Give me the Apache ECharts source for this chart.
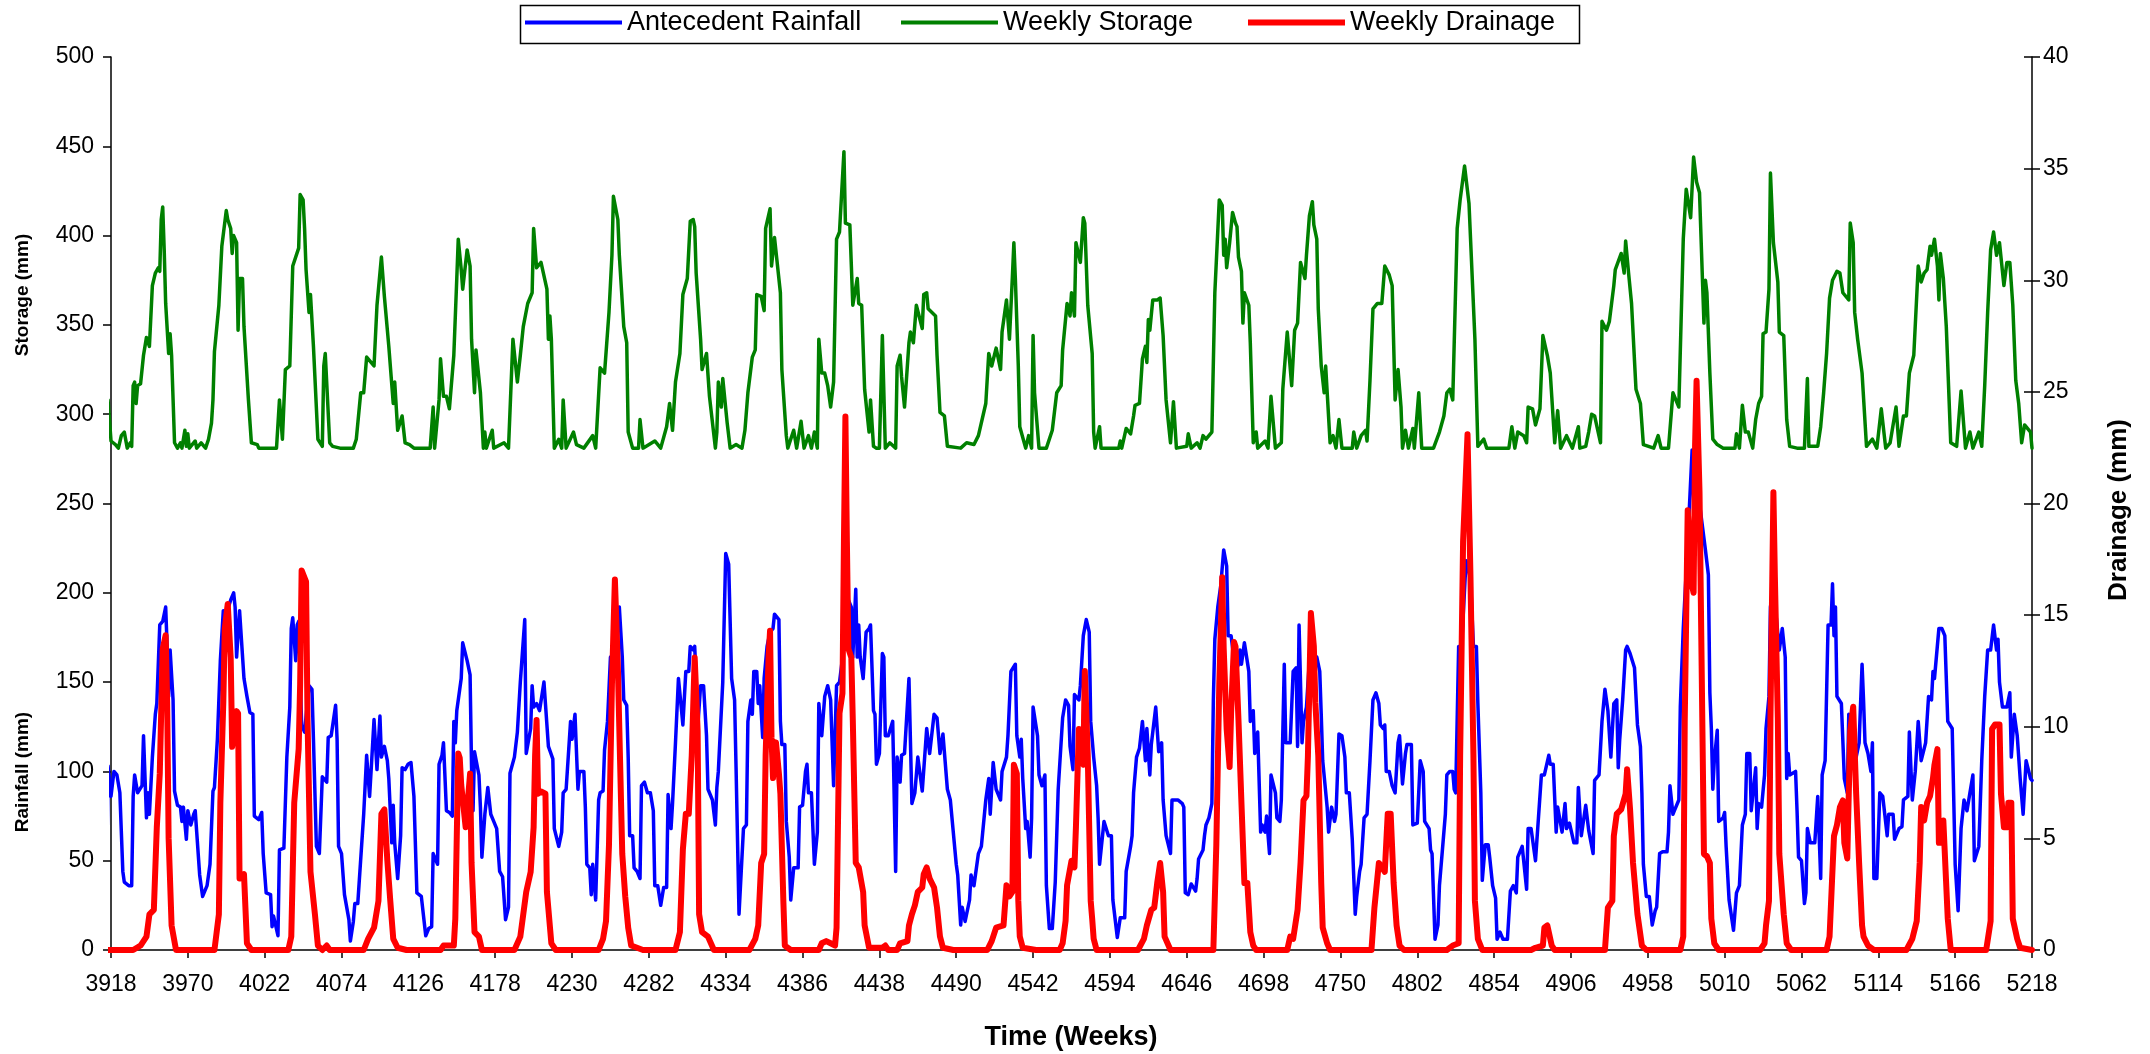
<!DOCTYPE html>
<html><head><meta charset="utf-8">
<script src="https://cdn.jsdelivr.net/npm/echarts/dist/echarts.min.js"></script>
<style>html,body{margin:0;padding:0;background:#fff;overflow:hidden}#c{width:2150px;height:1054px}</style>
</head><body><div id="c"></div>
<script>
const WEEK_START = 3918, WEEK_END = 5218, WEEK_STEP = 52;
const seriesNames = ['Antecedent Rainfall', 'Weekly Storage', 'Weekly Drainage'];
const axisTitles = {x: 'Time (Weeks)', storage: 'Storage (mm)', rain: 'Rainfall (mm)', drain: 'Drainage (mm)'};
const leftAxis = {min: 0, max: 500, step: 50};
const rightAxis = {min: 0, max: 40, step: 5};

// [week, mm]
const rainfall = [[3912,30],[3913,39],[3915,38],[3916,103],[3918,86],[3920,100],[3922,98],[3924,88],[3925,88],[3926,44],[3927,38],[3930,36],[3932,36],[3933,86],[3934,98],[3936,88],[3939,92],[3940,120],[3942,74],[3943,88],[3944,76],[3946,108],[3948,132],[3949,138],[3951,182],[3953,184],[3955,192],[3956,170],[3957,142],[3958,168],[3960,140],[3961,89],[3963,81],[3965,80],[3966,72],[3967,80],[3969,62],[3970,78],[3972,70],[3974,76],[3975,78],[3976,66],[3978,42],[3980,30],[3983,36],[3985,48],[3987,89],[3988,91],[3990,118],[3992,162],[3994,190],[3996,188],[3999,196],[4001,200],[4002,192],[4003,164],[4005,190],[4006,190],[4008,152],[4010,142],[4012,133],[4014,132],[4015,75],[4018,73],[4020,77],[4021,54],[4023,32],[4026,31],[4027,13],[4028,19],[4031,8],[4032,56],[4035,57],[4037,108],[4039,136],[4040,180],[4041,186],[4043,162],[4044,182],[4045,184],[4047,126],[4049,122],[4052,148],[4054,146],[4055,118],[4057,58],[4059,54],[4061,97],[4064,94],[4065,119],[4067,120],[4070,137],[4071,118],[4072,58],[4074,54],[4076,31],[4079,17],[4080,5],[4082,16],[4083,26],[4085,26],[4089,76],[4091,109],[4093,86],[4094,100],[4096,129],[4098,101],[4100,131],[4101,108],[4103,114],[4105,106],[4106,96],[4108,60],[4109,81],[4110,60],[4112,40],[4114,64],[4115,102],[4117,101],[4119,104],[4121,105],[4123,86],[4125,32],[4128,30],[4131,8],[4133,12],[4135,13],[4136,54],[4137,55],[4139,48],[4140,104],[4142,109],[4143,116],[4145,78],[4147,77],[4149,75],[4150,128],[4151,116],[4152,134],[4154,146],[4155,152],[4156,172],[4159,162],[4161,154],[4162,102],[4163,78],[4164,111],[4167,98],[4168,80],[4169,52],[4171,76],[4173,91],[4175,76],[4177,72],[4179,68],[4181,44],[4183,41],[4185,17],[4187,24],[4188,99],[4191,108],[4193,122],[4195,150],[4198,185],[4199,110],[4202,124],[4203,148],[4204,136],[4206,138],[4208,134],[4211,150],[4212,138],[4214,114],[4217,107],[4218,68],[4221,58],[4223,66],[4224,88],[4226,90],[4229,128],[4230,118],[4232,132],[4234,90],[4235,100],[4238,100],[4239,80],[4240,48],[4242,46],[4243,31],[4244,48],[4246,28],[4248,84],[4249,88],[4251,89],[4252,112],[4254,128],[4256,164],[4257,156],[4258,168],[4260,189],[4262,192],[4264,164],[4265,140],[4267,137],[4268,108],[4269,64],[4271,64],[4272,46],[4274,44],[4276,40],[4277,92],[4279,94],[4281,88],[4283,88],[4285,78],[4286,36],[4288,36],[4290,25],[4292,35],[4294,35],[4295,87],[4297,68],[4298,82],[4300,116],[4302,152],[4304,135],[4305,126],[4307,156],[4309,156],[4310,170],[4312,168],[4313,170],[4314,152],[4315,124],[4317,148],[4319,148],[4321,120],[4322,90],[4325,84],[4327,70],[4328,91],[4329,100],[4332,150],[4334,222],[4336,216],[4338,152],[4340,140],[4341,102],[4343,20],[4346,68],[4348,70],[4349,128],[4351,140],[4352,132],[4353,156],[4355,156],[4356,138],[4357,148],[4359,119],[4360,152],[4362,170],[4364,178],[4366,180],[4367,188],[4370,185],[4371,128],[4372,115],[4374,115],[4375,72],[4377,52],[4378,28],[4380,46],[4383,46],[4384,80],[4386,81],[4388,100],[4389,104],[4390,88],[4392,88],[4394,48],[4396,66],[4397,138],[4399,120],[4401,142],[4403,148],[4405,140],[4407,92],[4409,148],[4411,150],[4414,170],[4415,228],[4417,196],[4419,192],[4420,164],[4422,202],[4423,164],[4424,182],[4425,164],[4427,152],[4429,178],[4431,180],[4432,182],[4434,134],[4435,132],[4436,104],[4438,110],[4440,166],[4441,164],[4442,120],[4444,120],[4447,128],[4449,44],[4450,108],[4452,94],[4453,109],[4455,110],[4458,152],[4459,153],[4460,82],[4462,88],[4464,108],[4467,89],[4468,89],[4470,124],[4472,110],[4475,132],[4477,130],[4479,110],[4481,121],[4484,90],[4486,84],[4488,66],[4490,48],[4491,42],[4493,14],[4494,24],[4496,16],[4497,16],[4499,28],[4500,42],[4502,36],[4505,54],[4507,58],[4510,84],[4512,96],[4513,76],[4515,105],[4517,90],[4520,84],[4521,100],[4524,108],[4525,120],[4527,156],[4530,160],[4531,120],[4533,108],[4534,118],[4535,96],[4537,68],[4538,72],[4540,52],[4541,74],[4542,136],[4545,120],[4546,98],[4548,92],[4550,98],[4551,36],[4553,12],[4555,12],[4557,38],[4559,90],[4560,90],[4562,130],[4564,140],[4566,137],[4567,114],[4569,101],[4570,143],[4573,140],[4574,148],[4576,176],[4578,185],[4580,178],[4581,128],[4583,108],[4585,92],[4586,74],[4587,48],[4588,48],[4590,72],[4591,71],[4593,64],[4595,64],[4596,28],[4597,29],[4599,7],[4601,18],[4604,18],[4605,44],[4608,58],[4609,64],[4610,88],[4612,108],[4614,113],[4616,128],[4618,106],[4619,124],[4621,98],[4622,115],[4625,136],[4627,111],[4629,116],[4630,84],[4632,64],[4635,54],[4636,84],[4640,84],[4643,82],[4644,80],[4645,32],[4647,31],[4649,37],[4650,36],[4652,33],[4653,40],[4654,51],[4657,56],[4658,64],[4659,70],[4661,74],[4663,82],[4664,140],[4665,174],[4667,192],[4669,204],[4671,224],[4673,215],[4674,176],[4676,176],[4679,156],[4681,160],[4682,168],[4683,160],[4685,172],[4688,156],[4689,128],[4691,134],[4692,110],[4694,122],[4696,66],[4697,70],[4699,66],[4700,75],[4702,54],[4703,98],[4706,88],[4707,74],[4709,72],[4710,84],[4712,160],[4713,116],[4716,116],[4718,156],[4720,158],[4721,114],[4722,182],[4724,116],[4725,128],[4727,136],[4729,162],[4732,164],[4734,164],[4736,156],[4737,132],[4738,106],[4741,80],[4742,66],[4744,80],[4746,72],[4747,76],[4749,121],[4751,120],[4753,108],[4754,88],[4756,88],[4758,62],[4760,20],[4761,30],[4763,44],[4764,48],[4766,74],[4768,76],[4770,106],[4772,140],[4774,144],[4776,138],[4777,126],[4779,124],[4780,126],[4781,100],[4783,100],[4785,92],[4787,88],[4789,116],[4790,120],[4792,93],[4794,110],[4795,115],[4798,115],[4799,70],[4802,71],[4804,106],[4806,100],[4807,72],[4810,68],[4811,56],[4812,54],[4814,6],[4816,14],[4817,36],[4819,56],[4821,76],[4822,98],[4824,100],[4826,100],[4827,90],[4828,88],[4830,170],[4832,170],[4835,218],[4838,208],[4840,170],[4842,170],[4843,138],[4845,88],[4846,39],[4848,59],[4850,59],[4851,52],[4853,36],[4855,29],[4856,6],[4858,10],[4860,6],[4863,6],[4865,33],[4867,36],[4869,32],[4870,52],[4873,58],[4874,58],[4876,34],[4877,68],[4879,68],[4882,50],[4884,74],[4886,98],[4888,98],[4891,109],[4892,104],[4894,104],[4896,66],[4897,80],[4900,66],[4902,82],[4903,68],[4905,71],[4908,60],[4910,60],[4911,91],[4913,64],[4916,81],[4918,67],[4919,68],[4921,54],[4922,95],[4925,98],[4927,128],[4929,146],[4931,134],[4933,108],[4935,138],[4937,140],[4938,102],[4939,118],[4941,140],[4943,168],[4944,170],[4946,166],[4949,158],[4951,126],[4953,114],[4954,88],[4955,48],[4957,30],[4959,30],[4961,14],[4963,22],[4964,24],[4966,54],[4968,55],[4971,55],[4972,66],[4973,92],[4975,76],[4976,78],[4979,84],[4980,136],[4982,180],[4985,228],[4988,280],[4990,228],[4993,250],[4997,224],[4998,224],[4999,210],[5000,144],[5001,124],[5002,90],[5003,106],[5005,123],[5006,72],[5009,74],[5010,77],[5011,58],[5013,28],[5016,11],[5017,11],[5018,32],[5020,36],[5021,36],[5022,70],[5024,76],[5025,110],[5027,110],[5028,78],[5029,78],[5031,102],[5032,68],[5033,82],[5035,80],[5037,98],[5038,124],[5040,142],[5041,192],[5042,198],[5045,186],[5047,168],[5049,180],[5051,164],[5052,96],[5053,110],[5054,98],[5058,100],[5059,78],[5060,52],[5062,50],[5064,26],[5065,32],[5066,68],[5068,60],[5071,60],[5073,86],[5075,40],[5076,98],[5078,106],[5080,182],[5082,182],[5083,205],[5084,176],[5085,192],[5086,142],[5089,138],[5091,96],[5093,88],[5094,132],[5096,118],[5099,108],[5101,116],[5103,160],[5104,140],[5105,116],[5107,110],[5109,100],[5110,116],[5111,40],[5113,40],[5115,88],[5117,86],[5120,64],[5121,76],[5124,76],[5125,62],[5128,68],[5130,69],[5131,84],[5134,86],[5135,122],[5137,84],[5139,100],[5141,128],[5143,106],[5146,116],[5148,142],[5150,140],[5151,156],[5152,152],[5155,180],[5157,180],[5159,176],[5161,128],[5164,124],[5166,48],[5168,22],[5170,68],[5172,84],[5174,78],[5176,88],[5178,98],[5179,50],[5182,58],[5184,106],[5186,142],[5188,168],[5190,168],[5192,182],[5194,168],[5195,174],[5196,150],[5198,136],[5201,136],[5203,144],[5204,108],[5206,132],[5208,120],[5210,96],[5212,76],[5214,106],[5217,96],[5218,95]];

const storage = [[3912,283],[3914,283],[3916,308],[3918,285],[3921,283],[3923,281],[3925,288],[3927,290],[3929,281],[3931,284],[3932,282],[3933,316],[3934,318],[3935,306],[3936,316],[3938,317],[3940,333],[3942,343],[3944,338],[3946,372],[3948,379],[3950,382],[3951,380],[3952,409],[3953,416],[3954,392],[3955,362],[3957,334],[3958,345],[3959,333],[3961,284],[3963,281],[3965,284],[3966,281],[3968,291],[3969,282],[3970,289],[3971,281],[3975,285],[3976,281],[3979,284],[3982,281],[3984,286],[3986,295],[3987,308],[3988,335],[3991,361],[3993,394],[3996,414],[3997,409],[3999,404],[4000,390],[4001,400],[4003,396],[4004,347],[4005,376],[4007,376],[4008,349],[4011,308],[4013,284],[4017,283],[4018,281],[4030,281],[4032,308],[4034,286],[4036,325],[4039,327],[4041,383],[4045,393],[4046,423],[4048,420],[4049,404],[4050,381],[4052,357],[4053,367],[4055,338],[4058,286],[4061,282],[4062,327],[4063,334],[4066,284],[4068,282],[4073,281],[4082,281],[4084,286],[4087,312],[4089,312],[4091,332],[4096,327],[4098,361],[4101,388],[4103,366],[4106,338],[4109,306],[4110,318],[4112,291],[4115,299],[4117,284],[4120,283],[4123,281],[4127,281],[4134,281],[4136,304],[4137,281],[4140,308],[4141,331],[4143,310],[4145,310],[4147,303],[4150,333],[4152,376],[4153,398],[4155,381],[4156,370],[4159,392],[4161,383],[4162,342],[4164,312],[4165,336],[4168,312],[4170,281],[4171,290],[4172,281],[4176,291],[4177,281],[4184,284],[4187,281],[4190,342],[4193,318],[4195,333],[4197,349],[4200,362],[4203,368],[4204,404],[4206,382],[4209,385],[4213,370],[4214,342],[4215,355],[4216,342],[4218,281],[4221,286],[4223,281],[4224,308],[4226,281],[4231,290],[4233,283],[4238,281],[4244,288],[4246,281],[4249,326],[4252,323],[4255,357],[4257,389],[4258,422],[4261,409],[4262,389],[4265,349],[4267,340],[4268,290],[4271,281],[4275,281],[4276,297],[4278,281],[4286,285],[4290,281],[4294,293],[4296,306],[4298,291],[4300,318],[4303,334],[4305,367],[4308,376],[4310,408],[4312,409],[4313,405],[4314,379],[4317,342],[4318,325],[4321,334],[4323,310],[4327,281],[4328,290],[4329,318],[4331,304],[4332,320],[4335,295],[4337,281],[4341,283],[4345,281],[4347,291],[4349,312],[4352,332],[4354,336],[4355,367],[4358,366],[4360,358],[4361,404],[4364,415],[4365,383],[4367,399],[4371,368],[4372,325],[4375,288],[4376,281],[4380,291],[4382,281],[4385,296],[4387,281],[4390,288],[4392,281],[4394,290],[4396,281],[4397,342],[4399,323],[4401,323],[4403,316],[4405,304],[4407,318],[4409,398],[4411,402],[4414,447],[4415,407],[4418,406],[4420,361],[4423,376],[4424,362],[4426,361],[4428,314],[4431,290],[4432,308],[4434,282],[4436,281],[4438,281],[4440,344],[4442,281],[4445,284],[4449,281],[4450,327],[4452,333],[4453,321],[4455,304],[4458,340],[4459,346],[4461,340],[4463,361],[4467,348],[4468,367],[4470,368],[4471,359],[4476,355],[4477,333],[4479,301],[4482,299],[4484,282],[4493,281],[4497,284],[4502,283],[4505,288],[4510,306],[4512,334],[4514,327],[4517,337],[4520,325],[4521,346],[4524,364],[4526,342],[4528,377],[4529,396],[4530,376],[4532,327],[4533,293],[4537,281],[4539,288],[4541,281],[4542,344],[4543,312],[4546,281],[4551,281],[4555,291],[4558,312],[4561,316],[4562,336],[4565,362],[4567,355],[4568,368],[4570,355],[4571,396],[4574,385],[4576,410],[4577,407],[4579,361],[4582,334],[4583,290],[4584,281],[4587,293],[4588,281],[4600,281],[4601,285],[4602,281],[4605,292],[4608,289],[4610,299],[4611,305],[4614,306],[4616,331],[4618,338],[4619,329],[4620,353],[4621,347],[4623,364],[4626,364],[4628,365],[4630,344],[4632,308],[4635,284],[4637,307],[4639,281],[4646,282],[4647,289],[4649,281],[4653,284],[4655,281],[4657,288],[4659,286],[4663,290],[4665,368],[4668,420],[4670,417],[4671,389],[4672,398],[4673,382],[4675,396],[4677,413],[4679,407],[4680,405],[4681,388],[4683,380],[4684,351],[4685,368],[4688,361],[4689,340],[4691,284],[4693,290],[4694,281],[4699,285],[4701,281],[4703,310],[4706,281],[4710,284],[4711,314],[4714,346],[4717,316],[4719,347],[4721,351],[4723,385],[4726,376],[4727,389],[4729,411],[4731,419],[4732,406],[4734,398],[4735,359],[4737,327],[4739,312],[4740,327],[4743,284],[4745,288],[4747,281],[4749,297],[4751,281],[4758,281],[4759,290],[4761,281],[4764,288],[4767,291],[4768,285],[4770,319],[4771,318],[4772,359],[4775,362],[4778,362],[4780,383],[4783,378],[4785,372],[4787,308],[4789,325],[4791,304],[4792,281],[4794,291],[4796,281],[4799,292],[4800,281],[4803,312],[4805,281],[4813,281],[4817,290],[4820,299],[4822,312],[4824,314],[4826,308],[4829,404],[4831,420],[4834,439],[4837,418],[4841,342],[4843,282],[4847,286],[4849,281],[4864,281],[4866,293],[4868,281],[4870,290],[4874,288],[4876,284],[4877,304],[4880,303],[4882,294],[4885,303],[4887,344],[4890,333],[4892,323],[4894,297],[4895,284],[4897,302],[4899,281],[4903,288],[4907,281],[4911,293],[4912,281],[4916,282],[4918,290],[4920,300],[4922,299],[4926,284],[4927,352],[4930,347],[4932,352],[4935,372],[4936,381],[4940,390],[4942,379],[4943,397],[4945,379],[4947,362],[4950,314],[4953,306],[4955,283],[4962,281],[4965,288],[4967,281],[4972,281],[4975,312],[4979,304],[4982,398],[4984,426],[4987,410],[4989,444],[4991,430],[4993,424],[4995,375],[4996,351],[4997,375],[4998,368],[5000,323],[5002,286],[5005,283],[5009,281],[5017,281],[5018,289],[5020,281],[5022,305],[5024,290],[5026,290],[5029,281],[5031,297],[5033,306],[5035,310],[5036,345],[5038,346],[5040,370],[5041,435],[5043,396],[5046,374],[5047,346],[5050,344],[5052,297],[5054,282],[5059,281],[5064,281],[5066,320],[5067,282],[5073,282],[5075,293],[5077,312],[5079,334],[5081,365],[5083,375],[5086,380],[5088,379],[5090,368],[5094,364],[5095,407],[5097,396],[5098,357],[5100,342],[5103,323],[5106,282],[5110,286],[5113,281],[5116,303],[5119,281],[5122,284],[5126,304],[5128,282],[5131,299],[5133,299],[5135,323],[5138,333],[5141,383],[5143,374],[5145,379],[5147,381],[5149,394],[5150,389],[5152,398],[5154,383],[5155,364],[5156,390],[5158,376],[5160,349],[5163,284],[5167,282],[5170,313],[5173,281],[5176,290],[5178,281],[5182,290],[5184,282],[5186,316],[5188,357],[5190,392],[5192,402],[5194,389],[5196,396],[5199,372],[5201,385],[5203,385],[5205,361],[5207,319],[5209,306],[5211,284],[5213,294],[5217,290],[5218,281]];

const drainage = [[3912,0],[3933,0],[3938,0.2],[3942,0.6],[3944,1.6],[3947,1.8],[3949,5.5],[3951,7.9],[3953,13.5],[3955,14.1],[3956,11.1],[3957,5.0],[3959,1.1],[3962,0],[3988,0],[3991,1.6],[3992,6.6],[3994,11.1],[3995,14.4],[3997,15.5],[3999,13.1],[4000,9.1],[4001,9.1],[4003,10.7],[4004,10.6],[4005,3.2],[4008,3.4],[4010,0.3],[4013,0],[4038,0],[4040,0.6],[4042,6.6],[4045,9.0],[4046,11.9],[4047,17.0],[4050,16.5],[4051,10.3],[4053,3.5],[4056,1.6],[4058,0.2],[4061,0],[4064,0.2],[4066,0],[4089,0],[4092,0.5],[4096,1.0],[4099,2.2],[4101,6.1],[4103,6.3],[4105,4.0],[4107,2.2],[4109,0.5],[4112,0.1],[4118,0],[4141,0],[4143,0.2],[4150,0.2],[4151,1.4],[4153,8.8],[4154,8.6],[4155,7.4],[4158,5.5],[4159,5.5],[4161,7.9],[4162,3.9],[4164,0.8],[4167,0.6],[4169,0],[4191,0],[4195,0.6],[4199,2.6],[4202,3.5],[4204,5.5],[4205,8.7],[4206,10.3],[4207,7.0],[4209,7.1],[4212,7.0],[4213,2.6],[4216,0.3],[4219,0],[4248,0],[4251,0.5],[4253,1.3],[4255,4.7],[4257,11.9],[4259,16.6],[4261,12.7],[4264,4.3],[4266,2.4],[4268,1.0],[4270,0.2],[4274,0.1],[4278,0],[4300,0],[4303,0.8],[4305,4.5],[4307,6.1],[4309,6.1],[4311,8.7],[4313,13.1],[4315,9.8],[4316,1.6],[4318,0.8],[4322,0.6],[4326,0],[4350,0],[4354,0.5],[4356,1.1],[4358,3.9],[4360,4.3],[4361,8.7],[4363,13.1],[4364,14.3],[4365,9.5],[4366,7.7],[4368,9.3],[4370,7.9],[4371,7.0],[4373,2.2],[4374,0.2],[4378,0],[4397,0],[4399,0.3],[4402,0.4],[4405,0.3],[4408,0.2],[4409,1.0],[4411,10.6],[4413,11.5],[4414,18.3],[4415,23.9],[4416,18.3],[4417,13.5],[4419,13.1],[4420,10.3],[4422,3.9],[4424,3.7],[4427,2.6],[4428,1.1],[4431,0.1],[4440,0.1],[4442,0.2],[4444,0],[4450,0],[4452,0.3],[4457,0.4],[4458,1.1],[4460,1.6],[4462,2.0],[4464,2.6],[4467,2.8],[4468,3.4],[4470,3.7],[4472,3.2],[4475,2.8],[4477,1.9],[4479,0.6],[4481,0.1],[4488,0],[4511,0],[4514,0.4],[4517,1.0],[4522,1.1],[4524,2.9],[4526,2.4],[4528,2.6],[4529,8.3],[4531,7.9],[4532,2.2],[4533,0.6],[4535,0.1],[4544,0],[4560,0],[4562,0.3],[4564,1.3],[4565,2.9],[4568,4.0],[4570,3.7],[4571,5.5],[4573,9.9],[4574,8.5],[4576,8.3],[4577,12.5],[4578,10.7],[4579,8.7],[4581,2.2],[4582,1.4],[4583,0.5],[4585,0],[4613,0],[4617,0.5],[4619,1.1],[4622,1.8],[4624,1.9],[4626,3.0],[4628,3.9],[4630,2.6],[4631,0.6],[4635,0],[4664,0],[4666,4.7],[4668,11.9],[4670,16.7],[4671,13.5],[4673,9.9],[4675,8.2],[4676,10.6],[4678,13.8],[4679,13.6],[4681,10.3],[4683,6.6],[4685,3.0],[4687,3.0],[4689,0.8],[4691,0.2],[4693,0],[4714,0],[4716,0.6],[4718,0.5],[4721,1.8],[4723,3.9],[4725,6.7],[4727,6.9],[4728,8.7],[4730,15.1],[4732,13.6],[4733,11.1],[4735,8.7],[4737,3.0],[4738,1.0],[4741,0.3],[4743,0],[4771,0],[4773,1.9],[4776,3.9],[4778,3.7],[4780,3.5],[4782,6.1],[4784,6.1],[4786,3.0],[4788,1.1],[4790,0.2],[4793,0],[4822,0],[4826,0.2],[4830,0.3],[4831,8.7],[4833,18.3],[4836,23.1],[4838,16.7],[4840,8.7],[4841,2.2],[4843,0.5],[4846,0],[4879,0],[4882,0.1],[4887,0.2],[4888,1.0],[4890,1.1],[4891,0.8],[4893,0.2],[4895,0],[4929,0],[4931,1.9],[4934,2.2],[4935,5.1],[4937,6.1],[4940,6.3],[4943,7.0],[4944,8.1],[4946,6.3],[4948,3.9],[4951,1.6],[4954,0.2],[4957,0],[4980,0],[4982,0.6],[4983,10.3],[4985,19.7],[4988,16.3],[4989,16.0],[4990,22.6],[4991,25.5],[4993,20.5],[4996,4.3],[4998,4.2],[5000,3.9],[5001,1.4],[5003,0.3],[5006,0],[5034,0],[5037,0.3],[5038,1.1],[5040,2.2],[5041,10.3],[5043,20.5],[5044,16.7],[5046,10.3],[5047,4.3],[5050,1.6],[5052,0.3],[5055,0],[5079,0],[5081,0.6],[5084,5.1],[5086,5.6],[5088,6.4],[5090,6.7],[5091,4.8],[5093,4.1],[5094,7.0],[5095,9.8],[5097,10.9],[5099,7.0],[5101,3.9],[5103,1.1],[5104,0.6],[5107,0.2],[5111,0],[5133,0],[5137,0.5],[5140,1.3],[5142,3.9],[5143,6.4],[5145,5.8],[5147,6.6],[5149,6.9],[5151,7.7],[5152,8.3],[5154,9.0],[5155,4.8],[5157,4.8],[5158,5.8],[5159,5.8],[5161,1.4],[5163,0],[5187,0],[5190,1.3],[5191,9.9],[5193,10.1],[5196,10.1],[5197,7.0],[5199,5.5],[5201,5.5],[5202,6.6],[5204,6.6],[5205,1.4],[5208,0.5],[5210,0.1],[5218,0]];

const FONT = '"Liberation Sans", Arial, sans-serif';
const toOffset = arr => arr.map(p => [p[0] - WEEK_START, p[1]]);
const chart = echarts.init(document.getElementById('c'), null, {renderer: 'canvas', width: 2150, height: 1054});

const lineSeries = (name, data, color, width, yIdx, z) => ({
  name, type: 'line', data: toOffset(data), xAxisIndex: 0, yAxisIndex: yIdx, symbol: 'none', showSymbol: false,
  clip: false, z, color,
  lineStyle: {color, width, join: 'round', cap: 'round'}
});

const legendItem = (name, left) => ({
  data: [name], left, top: 9, padding: 0, icon: 'rect', itemWidth: 97, itemHeight: name === seriesNames[2] ? 6 : 4,
  textStyle: {fontSize: 27, color: '#000', fontFamily: FONT}
});

const titleText = (text, x, y, rot, size) => ({
  type: 'text', x, y, rotation: rot, z: 100,
  style: {text, font: 'bold ' + size + 'px ' + FONT, fill: '#000', textAlign: 'center', textVerticalAlign: 'middle'}
});

const gridBox = {left: 111, right: 118, top: 57, bottom: 104, containLabel: false, outerBoundsMode: 'none'};
const tickStyle = {color: '#000', width: 1.5};

chart.setOption({
  animation: false,
  backgroundColor: '#fff',
  textStyle: {fontFamily: FONT},
  grid: [Object.assign({}, gridBox), Object.assign({}, gridBox)],
  legend: [legendItem(seriesNames[0], 525), legendItem(seriesNames[1], 901), legendItem(seriesNames[2], 1248)],
  xAxis: [{
    type: 'value', gridIndex: 0, min: 0, max: WEEK_END - WEEK_START, interval: WEEK_STEP,
    axisLine: {show: true, onZero: false, lineStyle: tickStyle},
    axisTick: {show: true, length: 8, lineStyle: tickStyle},
    axisLabel: {formatter: v => String(v + WEEK_START), fontSize: 23, color: '#000', margin: 23, showMinLabel: true, showMaxLabel: true},
    splitLine: {show: false}
  }, {
    type: 'value', gridIndex: 1, min: 0, max: WEEK_END - WEEK_START, show: false
  }],
  yAxis: [
    {type: 'value', gridIndex: 0, position: 'left', min: leftAxis.min, max: leftAxis.max, interval: leftAxis.step,
     axisLine: {show: true, onZero: false, lineStyle: tickStyle},
     axisTick: {show: true, length: 8, lineStyle: tickStyle},
     axisLabel: {fontSize: 23, color: '#000', margin: 17}, splitLine: {show: false}},
    {type: 'value', gridIndex: 0, position: 'right', min: rightAxis.min, max: rightAxis.max, interval: rightAxis.step,
     axisLine: {show: true, onZero: false, lineStyle: tickStyle},
     axisTick: {show: true, length: 8, lineStyle: tickStyle},
     axisLabel: {fontSize: 23, color: '#000', margin: 11}, splitLine: {show: false}},
    {type: 'value', gridIndex: 1, position: 'right', min: rightAxis.min, max: rightAxis.max, interval: rightAxis.step,
     axisLine: {show: false, onZero: false}, axisTick: {show: true, inside: true, length: 8, lineStyle: tickStyle},
     axisLabel: {show: false}, splitLine: {show: false}}
  ],
  series: [
    lineSeries(seriesNames[0], rainfall, '#0000FF', 3.5, 0, 2),
    lineSeries(seriesNames[1], storage, '#008000', 3.5, 0, 3),
    lineSeries(seriesNames[2], drainage, '#FF0000', 6, 1, 4)
  ],
  graphic: [
    {type: 'rect', left: 518, top: 3, shape: {width: 1059, height: 38}, style: {fill: 'none', stroke: '#000', lineWidth: 1.5}, z: 100},
    titleText(axisTitles.x, 1071, 1038, 0, 27),
    titleText(axisTitles.storage, 23, 295, Math.PI / 2, 19),
    titleText(axisTitles.rain, 23, 772, Math.PI / 2, 19),
    titleText(axisTitles.drain, 2119, 510, Math.PI / 2, 26)
  ]
});
</script></body></html>
